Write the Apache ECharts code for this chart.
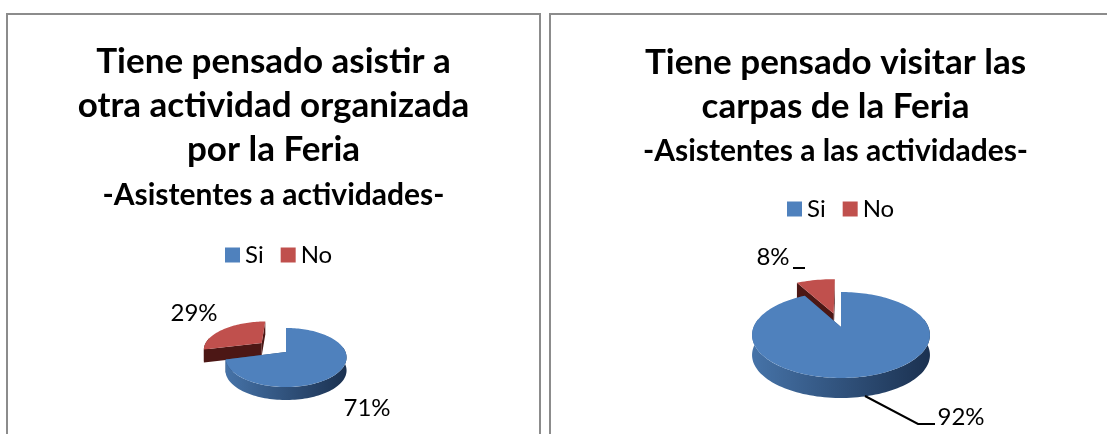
<!DOCTYPE html>
<html>
<head>
<meta charset="utf-8">
<script src="https://cdn.jsdelivr.net/npm/echarts@6/dist/echarts.min.js"></script>
<style>
  html, body { margin: 0; background: #fff; overflow: hidden; }
  .box { position: absolute; top: 13px; height: 430px; box-sizing: border-box;
         border: 2px solid #8c8c8c; overflow: hidden; }
  .box div.chart { position: absolute; left: 0; top: 0; }
</style>
</head>
<body>
<div class="box" style="left:6px;width:535px"><div class="chart" id="left" style="width:531px;height:426px"></div></div>
<div class="box" style="left:549px;width:580px"><div class="chart" id="right" style="width:569px;height:426px"></div></div>
<script>
const FONT = 'Lato';
const categories = ['Si', 'No'];
const leftValues = [71, 29];
const rightValues = [92, 8];
const leftTitle = 'Tiene pensado asistir a\notra actividad organizada\npor la Feria';
const leftSub = '-Asistentes a actividades-';
const rightTitle = 'Tiene pensado visitar las\ncarpas de la Feria';
const rightSub = '-Asistentes a las actividades-';

const TOP = ['#4f81bd', '#c0504d'];
const FACE = ['#2a4a70', '#4c1715'];
const WALL = [['#4673a8', '#1b3150'], ['#4c1715', '#4c1715']];

// perspective of the tilted disc
const K = 0.186;

function point(c, deg, r, pull, midDeg) {
    const a = deg * Math.PI / 180, m = midDeg * Math.PI / 180;
    const u = r * Math.sin(a) + pull * Math.sin(m);
    const v = -r * Math.cos(a) - pull * Math.cos(m);
    const w = 1 - K * v;
    return [c.cx + c.rx * u / w, c.cy + c.ry * v / w];
}

function renderSlice(c, values, idx, params, api) {
    const total = values.reduce((a, b) => a + b, 0);
    const before = values.slice(0, idx).reduce((a, b) => a + b, 0);
    const val = api.value(0);
    const start = before / total * 360;
    const end = (before + val) / total * 360;
    const mid = (start + end) / 2;
    const pull = c.pull[idx];
    const r = c.grow[idx];
    const P = (deg, rr) => point(c, deg, rr, pull, mid);
    const down = p => [p[0], p[1] + c.depth];
    const children = [];

    // cut faces first, the top covers the ones turned away
    [start, end].forEach(deg => {
        const a = P(deg, 0), b = P(deg, r);
        children.push({
            type: 'polygon',
            shape: { points: [a, b, down(b), down(a)] },
            style: { fill: FACE[idx] }
        });
    });

    // front wall
    const w0 = Math.max(start, 79), w1 = Math.min(end, 281);
    if (w1 > w0) {
        const rim = [];
        for (let d = w0; d <= w1; d += 2) rim.push(P(d, r));
        rim.push(P(w1, r));
        const pts = rim.concat(rim.slice().reverse().map(down));
        children.push({
            type: 'polygon',
            shape: { points: pts },
            style: {
                fill: new echarts.graphic.LinearGradient(0, 0, 1, 0, [
                    { offset: 0, color: WALL[idx][0] },
                    { offset: 1, color: WALL[idx][1] }
                ])
            }
        });
    }

    // top
    const topPts = [P(start, 0)];
    for (let d = start; d <= end; d += 2) topPts.push(P(d, r));
    topPts.push(P(end, r));
    children.push({ type: 'polygon', shape: { points: topPts }, style: { fill: TOP[idx] } });

    // label and its leader
    const lab = c.labels[idx];
    children.push({
        type: 'text',
        style: {
            text: val + '%', x: lab[0], y: lab[1], fill: '#000',
            font: '24px ' + FONT, textAlign: 'center', textVerticalAlign: 'middle'
        }
    });
    if (c.leaders[idx]) {
        children.push({
            type: 'polyline',
            shape: { points: c.leaders[idx] },
            style: { stroke: '#000', lineWidth: 2, fill: null }
        });
    }
    return { type: 'group', children };
}

function drawChart(id, values, title, sub, c) {
    const chart = echarts.init(document.getElementById(id));
    chart.setOption({
        animation: false,
        title: {
            text: title,
            subtext: sub,
            left: 'center',
            top: c.titleTop,
            itemGap: c.titleGap,
            textStyle: { fontFamily: FONT, fontWeight: 'bold', fontSize: 35, lineHeight: 44, color: '#000' },
            subtextStyle: { fontFamily: FONT, fontWeight: 'bold', fontSize: 30, lineHeight: 34, color: '#000' }
        },
        legend: {
            data: categories,
            left: c.legendLeft,
            top: c.legendTop,
            icon: 'rect',
            itemWidth: 15,
            itemHeight: 15,
            itemGap: 17,
            textStyle: { fontFamily: FONT, fontSize: 24, color: '#000' }
        },
        series: categories.map((name, i) => ({
            type: 'custom',
            name: name,
            coordinateSystem: 'none',
            z: 3 - i,
            itemStyle: { color: TOP[i] },
            silent: true,
            data: [[values[i]]],
            renderItem: (params, api) => renderSlice(c, values, i, params, api)
        }))
    });
}

drawChart('left', leftValues, leftTitle, leftSub, {
    cx: 278, cy: 337, rx: 59.5, ry: 28.5, depth: 13,
    pull: [0, 0.55], grow: [1, 1],
    labels: [[359, 393], [186, 298]],
    leaders: [null, null],
    titleTop: 20, titleGap: 6,
    legendLeft: 212, legendTop: 223
});

drawChart('right', rightValues, rightTitle, rightSub, {
    cx: 290, cy: 312, rx: 87.4, ry: 41.5, depth: 20,
    pull: [0, 0.36], grow: [1, 1.12],
    labels: [[410, 402], [222, 242]],
    leaders: [[[314, 381], [367, 409], [384, 409]], [[242, 253], [254, 253]]],
    titleTop: 21, titleGap: 5,
    legendLeft: 231, legendTop: 177
});
</script>
</body>
</html>
